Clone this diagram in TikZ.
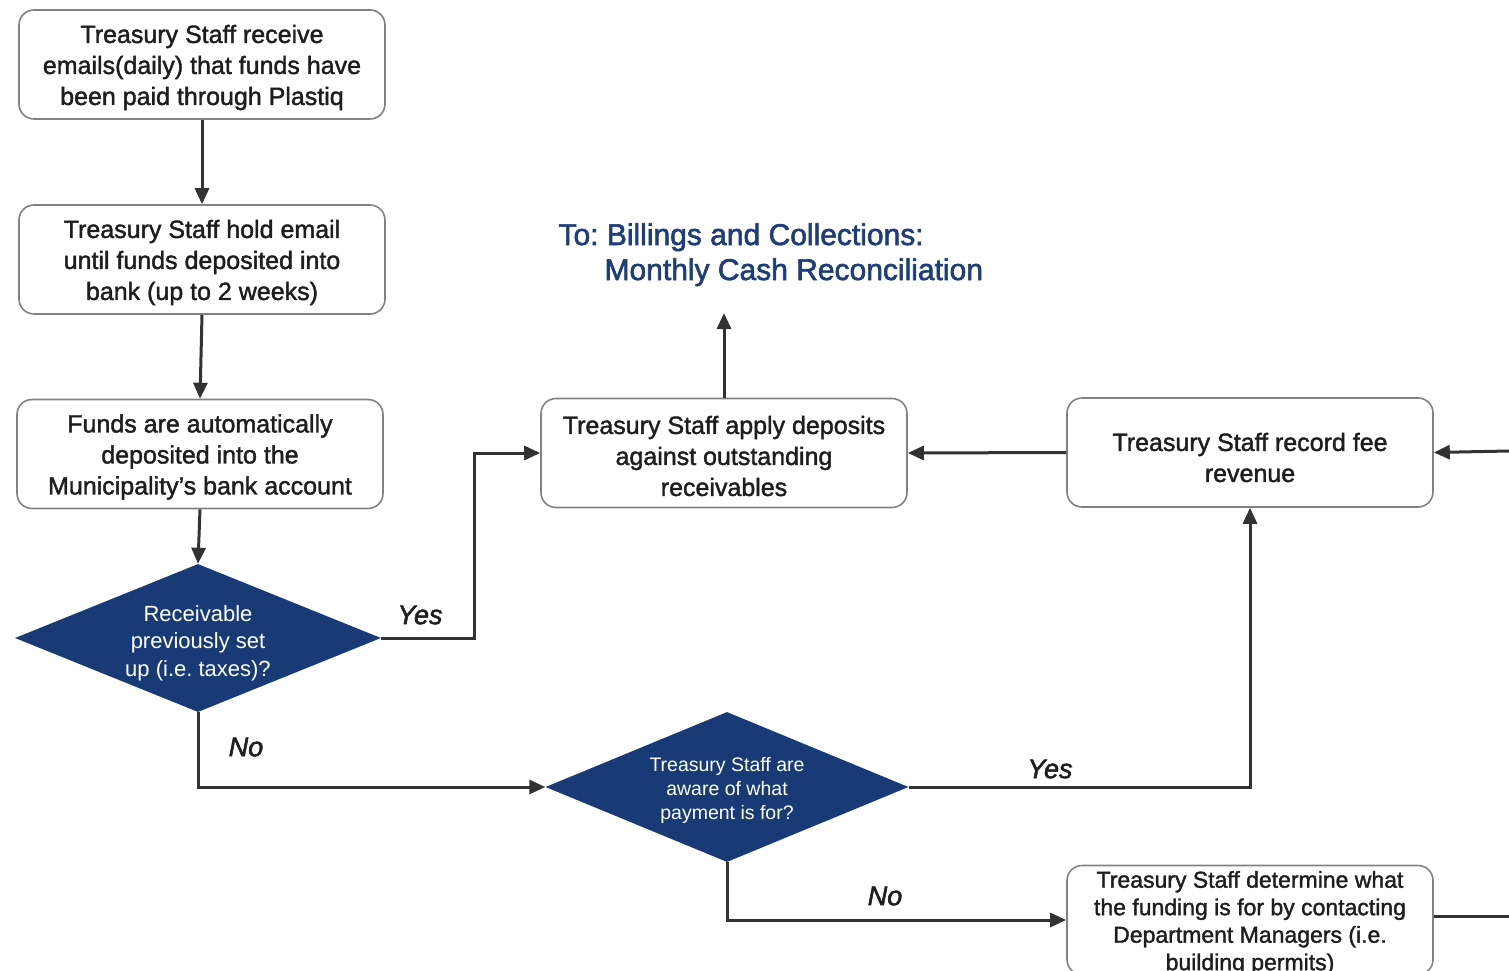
\documentclass[tikz,border=0pt]{standalone}
\usepackage{fontspec}
\setmainfont{Liberation Sans}
\newfontfamily\boxfont{Liberation Sans}[FakeBold=1.6]
\newfontfamily\headfont{Liberation Sans}[FakeBold=2]
\newfontfamily\answerfont{Liberation Sans}[FakeBold=2, ItalicFeatures={FakeBold=2}]
\frenchspacing
\usetikzlibrary{shapes.geometric,arrows.meta}
\definecolor{navy}{RGB}{24,59,118}
\definecolor{titleblue}{RGB}{31,61,120}
\definecolor{wire}{RGB}{50,50,50}
\definecolor{boxline}{RGB}{130,130,130}
\definecolor{txt}{RGB}{30,30,30}
\begin{document}
\begin{tikzpicture}[x=1pt,y=-1pt,
  stepbox/.style={draw=boxline, line width=1.6pt, rounded corners=15pt,
    minimum width=366pt, minimum height=109pt, inner sep=0pt},
  steptext/.style={text=txt, align=center, yshift=-3pt,
    font=\boxfont\fontsize{25}{31}\selectfont},
  decision/.style={diamond, fill=navy, draw=none, inner sep=0pt},
  dtext/.style={text=white, align=center},
  flow/.style={draw=wire, line width=3pt, -{Triangle[length=16pt,width=14pt]}},
  plain/.style={draw=wire, line width=3pt},
  answer/.style={text=txt, font=\answerfont\fontsize{27}{30}\selectfont\itshape},
  heading/.style={text=titleblue, font=\headfont\fontsize{30}{33}\selectfont, anchor=base west}]
\useasboundingbox (0,0) rectangle (1509,971);
\clip (0,0) rectangle (1509,971);

% process boxes
\node[stepbox, label={[steptext]center:{Treasury Staff receive\\emails(daily) that funds have\\been paid through Plastiq}}] (b1) at (202,64.5) {};
\node[stepbox, label={[steptext]center:{Treasury Staff hold email\\until funds deposited into\\bank (up to 2 weeks)}}] (b2) at (202,259.5) {};
\node[stepbox, label={[steptext]center:{Funds are automatically\\deposited into the\\Municipality’s bank account}}] (b3) at (200,454) {};
\node[stepbox, label={[steptext]center:{Treasury Staff apply deposits\\against outstanding\\receivables}}] (b4) at (724,453) {};
\node[stepbox, label={[steptext, yshift=-2pt]center:{Treasury Staff record fee\\revenue}}] (b5) at (1250,452.5) {};
\node[stepbox, label={[steptext, font=\boxfont\fontsize{23}{27.5}\selectfont]center:{Treasury Staff determine what\\the funding is for by contacting\\Department Managers (i.e.\\building permits)}}] (b6) at (1250,920) {};

% decisions
\node[decision, minimum width=366pt, minimum height=148pt,
  label={[dtext, yshift=-5pt, font=\fontsize{22}{27.5}\selectfont]center:{Receivable\\previously set\\up (i.e. taxes)?}}] (d1) at (198,638) {};
\node[decision, minimum width=363pt, minimum height=150pt,
  label={[dtext, yshift=-3pt, font=\fontsize{19.5}{24}\selectfont]center:{Treasury Staff are\\aware of what\\payment is for?}}] (d2) at (727,787) {};

% off-page reference
\node[heading] (t1) at (555,245) {To: Billings and Collections:};
\node[heading] (t2) at (601,280) {Monthly Cash Reconciliation};

% free ends and bends
\coordinate (up) at (724,313);
\coordinate (inR) at (1509,451);
\coordinate (outR) at (1509,916);
\coordinate (j1) at (474,638);

% connectors
\draw[flow] (b1.south) -- (b2.north);
\draw[flow] (b2.south) -- (b3.north);
\draw[flow] (b3.south) -- (d1.north);
\draw[flow] (d1.east) -- (j1) |- (b4.west);
\draw[flow] (d1.south) |- (d2.west);
\draw[flow] (b4.north) -- (up);
\draw[flow] (b5.west) -- (b4.east);
\draw[flow] (inR) -- (b5.east);
\draw[flow] (d2.east) -| (b5.south);
\draw[flow] (d2.south) |- (b6.west);
\draw[plain] (b6.east |- outR) -- (outR);

% branch labels
\node[answer] (y1) at (420,615) {Yes};
\node[answer] (n1) at (246,747) {No};
\node[answer] (y2) at (1050,769) {Yes};
\node[answer] (n2) at (885,896) {No};
\end{tikzpicture}
\end{document}
